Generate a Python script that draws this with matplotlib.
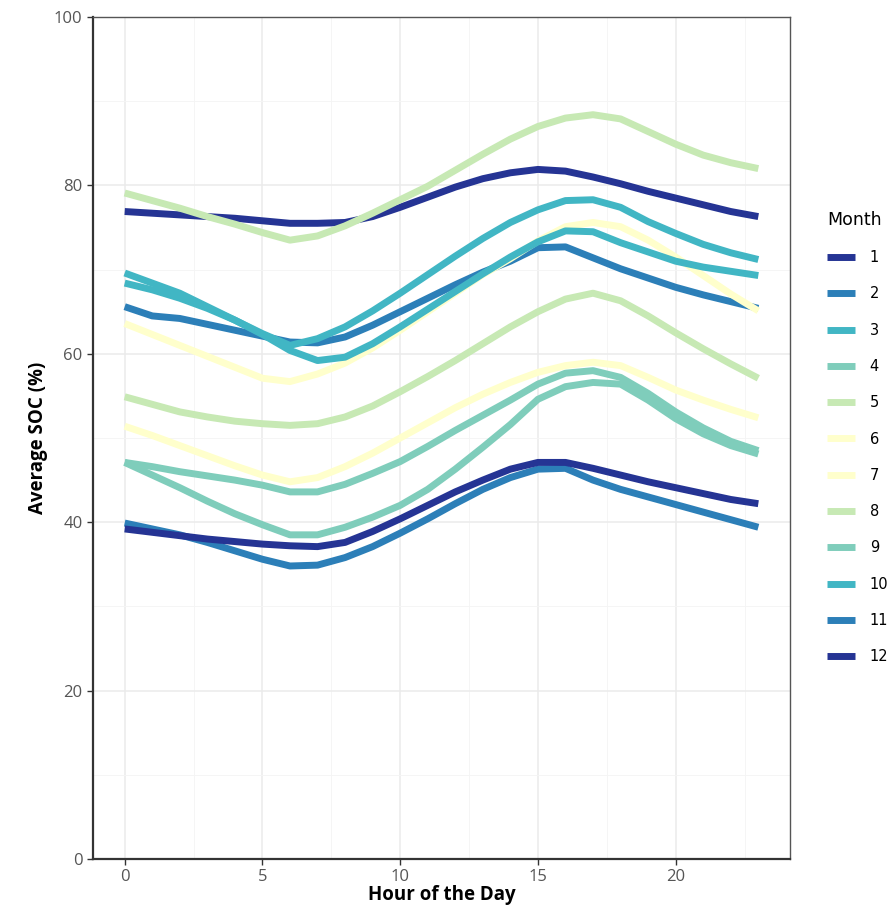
import matplotlib
matplotlib.use("Agg")
import matplotlib.pyplot as plt
import numpy as np
from matplotlib.ticker import MultipleLocator

hours = list(range(24))
months = [str(m) for m in range(1, 13)]

m1 = [76.9, 76.7, 76.5, 76.3, 76.1, 75.8, 75.5, 75.5, 75.6, 76.3, 77.4, 78.6, 79.8, 80.8, 81.5, 81.9, 81.7, 81.0, 80.2, 79.3, 78.5, 77.7, 76.9, 76.3]
m2 = [65.6, 64.5, 64.2, 63.5, 62.8, 62.1, 61.4, 61.3, 62.0, 63.4, 65.0, 66.6, 68.2, 69.7, 71.0, 72.6, 72.7, 71.4, 70.1, 69.0, 67.9, 67.0, 66.2, 65.4]
m3 = [69.6, 68.4, 67.2, 65.6, 64.0, 62.4, 61.0, 61.8, 63.2, 65.1, 67.2, 69.4, 71.6, 73.7, 75.6, 77.1, 78.2, 78.3, 77.4, 75.7, 74.3, 73.0, 72.0, 71.2]
m4 = [47.1, 46.6, 46.0, 45.5, 45.0, 44.4, 43.6, 43.6, 44.5, 45.8, 47.2, 49.0, 50.9, 52.7, 54.5, 56.4, 57.7, 58.0, 57.2, 55.3, 53.1, 51.2, 49.6, 48.5]
m5 = [79.1, 78.2, 77.3, 76.3, 75.4, 74.4, 73.5, 74.0, 75.2, 76.7, 78.3, 79.9, 81.8, 83.7, 85.5, 87.0, 88.0, 88.4, 87.9, 86.4, 84.9, 83.6, 82.7, 82.0]
m6 = [63.6, 62.3, 61.0, 59.7, 58.4, 57.1, 56.7, 57.6, 58.9, 60.7, 62.8, 65.0, 67.2, 69.4, 71.3, 73.4, 75.1, 75.6, 75.1, 73.5, 71.5, 69.3, 67.1, 65.1]
m7 = [51.4, 50.3, 49.1, 47.9, 46.7, 45.6, 44.8, 45.3, 46.6, 48.2, 50.0, 51.8, 53.6, 55.2, 56.6, 57.8, 58.6, 59.0, 58.6, 57.2, 55.7, 54.5, 53.4, 52.4]
m8 = [54.9, 54.0, 53.1, 52.5, 52.0, 51.7, 51.5, 51.7, 52.5, 53.8, 55.5, 57.3, 59.2, 61.2, 63.2, 65.0, 66.5, 67.2, 66.3, 64.5, 62.5, 60.6, 58.8, 57.1]
m9 = [47.1, 45.6, 44.1, 42.5, 41.0, 39.7, 38.5, 38.5, 39.4, 40.6, 42.0, 43.9, 46.3, 48.9, 51.6, 54.6, 56.1, 56.6, 56.4, 54.5, 52.3, 50.5, 49.1, 48.1]
m10 = [68.4, 67.6, 66.6, 65.4, 64.0, 62.3, 60.4, 59.2, 59.6, 61.2, 63.2, 65.3, 67.4, 69.5, 71.5, 73.3, 74.6, 74.5, 73.2, 72.1, 71.0, 70.3, 69.8, 69.3]
m11 = [39.9, 39.2, 38.5, 37.6, 36.6, 35.6, 34.8, 34.9, 35.8, 37.1, 38.7, 40.4, 42.2, 43.9, 45.3, 46.3, 46.4, 45.0, 43.9, 43.0, 42.1, 41.2, 40.3, 39.4]
m12 = [39.2, 38.8, 38.4, 38.0, 37.7, 37.4, 37.2, 37.1, 37.6, 38.9, 40.4, 42.0, 43.6, 45.0, 46.3, 47.1, 47.1, 46.4, 45.6, 44.8, 44.1, 43.4, 42.7, 42.2]

series = [m1, m2, m3, m4, m5, m6, m7, m8, m9, m10, m11, m12]
colors = ["#253494", "#2c7fb8", "#41b6c4", "#7fcdbb", "#c7e9b4", "#ffffcc",
          "#ffffcc", "#c7e9b4", "#7fcdbb", "#41b6c4", "#2c7fb8", "#253494"]

fig = plt.figure(figsize=(8.96, 9.11), dpi=100)
ax = fig.add_axes([0.1038, 0.0571, 0.7779, 0.9242])

for vals, c, lab in zip(series, colors, months):
    ax.plot(hours, vals, color=c, lw=5.0, label=lab, solid_capstyle="butt",
            solid_joinstyle="round", zorder=3)

ax.set_xlim(-1.15, 24.15)
ax.set_ylim(0, 100)
ax.xaxis.set_major_locator(MultipleLocator(5))
ax.xaxis.set_minor_locator(MultipleLocator(2.5))
ax.yaxis.set_major_locator(MultipleLocator(20))
ax.yaxis.set_minor_locator(MultipleLocator(10))
ax.grid(which="major", color="#ebebeb", lw=1.1, zorder=0)
ax.grid(which="minor", color="#f4f4f4", lw=0.6, zorder=0)
ax.set_axisbelow(True)
ax.tick_params(which="minor", length=0)
ax.tick_params(which="major", length=4, width=1, color="#333333",
               labelcolor="#555555", labelsize=12)
for lab in ax.get_xticklabels() + ax.get_yticklabels():
    lab.set_family("Open Sans")
for s in ["left", "bottom"]:
    ax.spines[s].set_color("#333333")
    ax.spines[s].set_linewidth(1.6)
for s in ["right", "top"]:
    ax.spines[s].set_color("#555555")
    ax.spines[s].set_linewidth(1.0)

ax.set_xlabel("Hour of the Day", fontsize=13.5, fontweight="bold", family="Open Sans", labelpad=0)
ax.set_ylabel("Average SOC (%)", fontsize=13.5, fontweight="bold", family="Open Sans", labelpad=4)

leg = fig.legend(loc="upper left", bbox_to_anchor=(0.917, 0.775), frameon=False,
                 title="Month", fontsize=10.5, title_fontsize=12.5,
                 handlelength=1.9, handletextpad=1.0, labelspacing=1.46,
                 borderaxespad=0)
leg._legend_box.align = "left"
for line in leg.get_lines():
    line.set_linewidth(5.0)

fig.savefig("out.png", dpi=100)
